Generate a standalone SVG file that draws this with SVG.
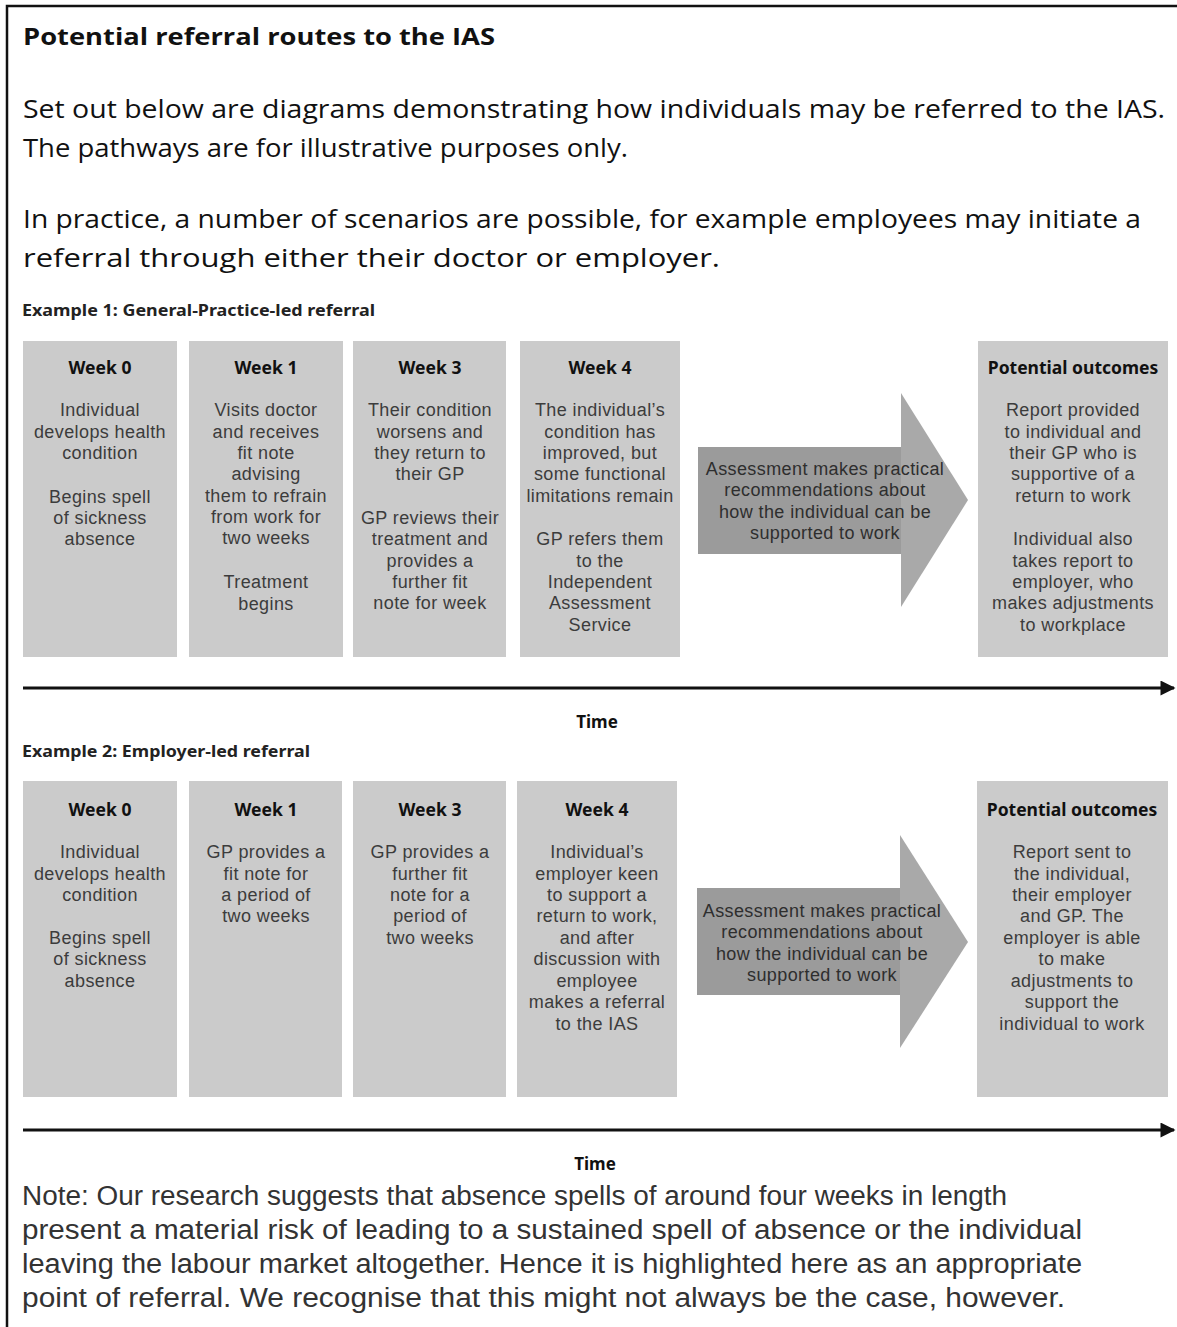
<svg xmlns="http://www.w3.org/2000/svg" width="1177" height="1327" viewBox="0 0 1177 1327">
<style>
.bg{fill:#ffffff}
.frame{stroke:#111;stroke-width:2.5;fill:none}
.title{font-family:"Open Sans","Liberation Sans",sans-serif;font-weight:bold;font-size:23px;fill:#111}
.para{font-family:"Open Sans","Liberation Sans",sans-serif;font-size:25px;fill:#111}
.ex{font-family:"Noto Sans","DejaVu Sans",sans-serif;font-weight:bold;font-size:15.5px;fill:#222}
.box{fill:#cbcbcb}
.hd{font-family:"Noto Sans","DejaVu Sans",sans-serif;font-weight:bold;font-size:17.5px;fill:#111;text-anchor:middle}
.tx{font-family:"Liberation Sans","Arial",sans-serif;font-size:18px;letter-spacing:0.4px;fill:#3c3c3c;text-anchor:middle}
.abody{fill:#9b9b9b}
.ahead{fill:#a9a9a9}
.atx{font-family:"Liberation Sans","Arial",sans-serif;font-size:18px;letter-spacing:0.4px;fill:#2e2e2e;text-anchor:middle}
.time{font-family:"Noto Sans","DejaVu Sans",sans-serif;font-weight:bold;font-size:17px;fill:#111;text-anchor:middle}
.tl{stroke:#111;stroke-width:3;fill:none}
.note{font-family:"Liberation Sans","Arial",sans-serif;font-size:27px;fill:#333}
</style>
<defs>
<marker id="tip" viewBox="0 0 10 10" refX="9" refY="5" markerWidth="6" markerHeight="5" markerUnits="strokeWidth" orient="auto">
<path d="M0,0 L10,5 L0,10 z" fill="#111"/>
</marker>
</defs>
<rect class="bg" x="0" y="0" width="1177" height="1327"/>
<path class="frame" d="M7,1327 V6 H1177"/>

<g id="header">
<text class="title" x="23" y="45" textLength="472" lengthAdjust="spacingAndGlyphs">Potential referral routes to the IAS</text>
<text class="para" x="23" y="118" textLength="1142" lengthAdjust="spacingAndGlyphs">Set out below are diagrams demonstrating how individuals may be referred to the IAS.</text>
<text class="para" x="23" y="157" textLength="605" lengthAdjust="spacingAndGlyphs">The pathways are for illustrative purposes only.</text>
<text class="para" x="23" y="228" textLength="1118" lengthAdjust="spacingAndGlyphs">In practice, a number of scenarios are possible, for example employees may initiate a</text>
<text class="para" x="23" y="267" textLength="697" lengthAdjust="spacingAndGlyphs">referral through either their doctor or employer.</text>
</g>

<g id="example1-label"><text class="ex" x="22" y="316" textLength="353" lengthAdjust="spacingAndGlyphs">Example 1: General-Practice-led referral</text></g>

<g id="e1-week0">
<rect class="box" x="23" y="341" width="154" height="316"/>
<text class="hd" x="100" y="374">Week 0</text>
<text class="tx" x="100" y="416">Individual</text>
<text class="tx" x="100" y="438">develops health</text>
<text class="tx" x="100" y="459">condition</text>
<text class="tx" x="100" y="503">Begins spell</text>
<text class="tx" x="100" y="524">of sickness</text>
<text class="tx" x="100" y="545">absence</text>
</g>
<g id="e1-week1">
<rect class="box" x="189" y="341" width="154" height="316"/>
<text class="hd" x="266" y="374">Week 1</text>
<text class="tx" x="266" y="416">Visits doctor</text>
<text class="tx" x="266" y="438">and receives</text>
<text class="tx" x="266" y="459">fit note</text>
<text class="tx" x="266" y="480">advising</text>
<text class="tx" x="266" y="502">them to refrain</text>
<text class="tx" x="266" y="523">from work for</text>
<text class="tx" x="266" y="544">two weeks</text>
<text class="tx" x="266" y="588">Treatment</text>
<text class="tx" x="266" y="610">begins</text>
</g>
<g id="e1-week3">
<rect class="box" x="353" y="341" width="153" height="316"/>
<text class="hd" x="430" y="374">Week 3</text>
<text class="tx" x="430" y="416">Their condition</text>
<text class="tx" x="430" y="438">worsens and</text>
<text class="tx" x="430" y="459">they return to</text>
<text class="tx" x="430" y="480">their GP</text>
<text class="tx" x="430" y="524">GP reviews their</text>
<text class="tx" x="430" y="545">treatment and</text>
<text class="tx" x="430" y="567">provides a</text>
<text class="tx" x="430" y="588">further fit</text>
<text class="tx" x="430" y="609">note for week</text>
</g>
<g id="e1-week4">
<rect class="box" x="520" y="341" width="160" height="316"/>
<text class="hd" x="600" y="374">Week 4</text>
<text class="tx" x="600" y="416">The individual’s</text>
<text class="tx" x="600" y="438">condition has</text>
<text class="tx" x="600" y="459">improved, but</text>
<text class="tx" x="600" y="480">some functional</text>
<text class="tx" x="600" y="502">limitations remain</text>
<text class="tx" x="600" y="545">GP refers them</text>
<text class="tx" x="600" y="567">to the</text>
<text class="tx" x="600" y="588">Independent</text>
<text class="tx" x="600" y="609">Assessment</text>
<text class="tx" x="600" y="631">Service</text>
</g>
<g id="e1-assessment">
<polygon class="ahead" points="901,393 968,500 901,607"/>
<rect class="abody" x="698" y="447" width="203" height="107"/>
<text class="atx" x="825" y="475">Assessment makes practical</text>
<text class="atx" x="825" y="496">recommendations about</text>
<text class="atx" x="825" y="518">how the individual can be</text>
<text class="atx" x="825" y="539">supported to work</text>
</g>
<g id="e1-outcomes">
<rect class="box" x="978" y="341" width="190" height="316"/>
<text class="hd" x="1073" y="374">Potential outcomes</text>
<text class="tx" x="1073" y="416">Report provided</text>
<text class="tx" x="1073" y="438">to individual and</text>
<text class="tx" x="1073" y="459">their GP who is</text>
<text class="tx" x="1073" y="480">supportive of a</text>
<text class="tx" x="1073" y="502">return to work</text>
<text class="tx" x="1073" y="545">Individual also</text>
<text class="tx" x="1073" y="567">takes report to</text>
<text class="tx" x="1073" y="588">employer, who</text>
<text class="tx" x="1073" y="609">makes adjustments</text>
<text class="tx" x="1073" y="631">to workplace</text>
</g>

<g id="example2-label"><text class="ex" x="22" y="757" textLength="288" lengthAdjust="spacingAndGlyphs">Example 2: Employer-led referral</text></g>

<g id="e2-week0">
<rect class="box" x="23" y="781" width="154" height="316"/>
<text class="hd" x="100" y="816">Week 0</text>
<text class="tx" x="100" y="858">Individual</text>
<text class="tx" x="100" y="880">develops health</text>
<text class="tx" x="100" y="901">condition</text>
<text class="tx" x="100" y="944">Begins spell</text>
<text class="tx" x="100" y="965">of sickness</text>
<text class="tx" x="100" y="987">absence</text>
</g>
<g id="e2-week1">
<rect class="box" x="189" y="781" width="153" height="316"/>
<text class="hd" x="266" y="816">Week 1</text>
<text class="tx" x="266" y="858">GP provides a</text>
<text class="tx" x="266" y="880">fit note for</text>
<text class="tx" x="266" y="901">a period of</text>
<text class="tx" x="266" y="922">two weeks</text>
</g>
<g id="e2-week3">
<rect class="box" x="353" y="781" width="153" height="316"/>
<text class="hd" x="430" y="816">Week 3</text>
<text class="tx" x="430" y="858">GP provides a</text>
<text class="tx" x="430" y="880">further fit</text>
<text class="tx" x="430" y="901">note for a</text>
<text class="tx" x="430" y="922">period of</text>
<text class="tx" x="430" y="944">two weeks</text>
</g>
<g id="e2-week4">
<rect class="box" x="517" y="781" width="160" height="316"/>
<text class="hd" x="597" y="816">Week 4</text>
<text class="tx" x="597" y="858">Individual’s</text>
<text class="tx" x="597" y="880">employer keen</text>
<text class="tx" x="597" y="901">to support a</text>
<text class="tx" x="597" y="922">return to work,</text>
<text class="tx" x="597" y="944">and after</text>
<text class="tx" x="597" y="965">discussion with</text>
<text class="tx" x="597" y="987">employee</text>
<text class="tx" x="597" y="1008">makes a referral</text>
<text class="tx" x="597" y="1030">to the IAS</text>
</g>
<g id="e2-assessment">
<polygon class="ahead" points="900,835 968,942 900,1048"/>
<rect class="abody" x="697" y="888" width="203" height="107"/>
<text class="atx" x="822" y="917">Assessment makes practical</text>
<text class="atx" x="822" y="938">recommendations about</text>
<text class="atx" x="822" y="960">how the individual can be</text>
<text class="atx" x="822" y="981">supported to work</text>
</g>
<g id="e2-outcomes">
<rect class="box" x="977" y="781" width="191" height="316"/>
<text class="hd" x="1072" y="816">Potential outcomes</text>
<text class="tx" x="1072" y="858">Report sent to</text>
<text class="tx" x="1072" y="880">the individual,</text>
<text class="tx" x="1072" y="901">their employer</text>
<text class="tx" x="1072" y="922">and GP. The</text>
<text class="tx" x="1072" y="944">employer is able</text>
<text class="tx" x="1072" y="965">to make</text>
<text class="tx" x="1072" y="987">adjustments to</text>
<text class="tx" x="1072" y="1008">support the</text>
<text class="tx" x="1072" y="1030">individual to work</text>
</g>

<g id="connectors">
<line class="tl" x1="23" y1="688" x2="1174" y2="688" marker-end="url(#tip)"/>
<line class="tl" x1="23" y1="1130" x2="1174" y2="1130" marker-end="url(#tip)"/>
</g>

<g id="time-labels">
<text class="time" x="597" y="728">Time</text>
<text class="time" x="595" y="1170">Time</text>
</g>

<g id="note">
<text class="note" x="22" y="1205" textLength="985" lengthAdjust="spacingAndGlyphs">Note: Our research suggests that absence spells of around four weeks in length</text>
<text class="note" x="22" y="1239" textLength="1060" lengthAdjust="spacingAndGlyphs">present a material risk of leading to a sustained spell of absence or the individual</text>
<text class="note" x="22" y="1273" textLength="1060" lengthAdjust="spacingAndGlyphs">leaving the labour market altogether. Hence it is highlighted here as an appropriate</text>
<text class="note" x="22" y="1307" textLength="1043" lengthAdjust="spacingAndGlyphs">point of referral. We recognise that this might not always be the case, however.</text>
</g>
</svg>
